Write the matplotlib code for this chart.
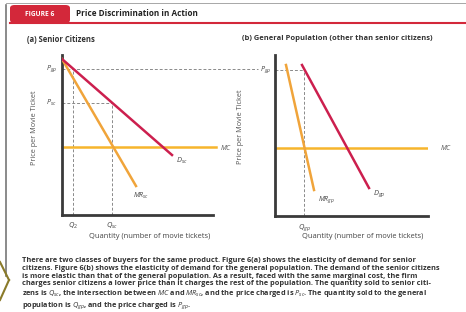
import matplotlib
matplotlib.use("Agg")
import matplotlib.pyplot as plt
from matplotlib.patches import FancyBboxPatch
from matplotlib.lines import Line2D

plt.rcParams['font.family'] = ['Open Sans', 'DejaVu Sans']
plt.rcParams['mathtext.fontset'] = 'custom'
plt.rcParams['mathtext.it'] = 'Open Sans:italic'
plt.rcParams['mathtext.rm'] = 'Open Sans'

# ---- data (price / quantity units) ----
mc_price = 6.8
# panel (a) senior citizens
sc_demand_q = [0.0, 11.0]
sc_demand_p = [15.6, 6.0]
sc_mr_q = [0.0, 7.4]
sc_mr_p = [15.6, 2.9]
sc_q2 = 1.1
sc_q = 5.0
sc_p = 11.2
gp_p = 14.6
# panel (b) general population
gp_demand_q = [2.7, 9.4]
gp_demand_p = [15.1, 2.8]
gp_mr_q = [1.1, 3.9]
gp_mr_p = [15.1, 2.6]
gp_q = 2.9

W, H = 466, 312
fig = plt.figure(figsize=(W/100, H/100), dpi=100)

def fx(x): return x / W
def fy(y): return 1 - y / H

D_COL = '#cc1f4e'
O_COL = '#f0a43a'
MC_COL = '#f7b52c'
DASH = '#8a8a8a'
AX = '#3a3a3a'

# ---- frame / header ----
fig.add_artist(Line2D([fx(6), fx(6)], [fy(5), fy(276)], color='#777', lw=1.2))
fig.add_artist(Line2D([fx(6), fx(466)], [fy(3), fy(3)], color='#999', lw=0.6))
fig.add_artist(FancyBboxPatch((fx(10), fy(23)), fx(60), 18/H,
                              boxstyle='round,pad=0,rounding_size=0.01',
                              fc='#d3283a', ec='none', transform=fig.transFigure))
fig.add_artist(Line2D([fx(10), fx(466)], [fy(23), fy(23)], color='#d3283a', lw=1.5))
fig.text(fx(40), fy(14), 'FIGURE 6', color='white', fontsize=4.8, fontweight='bold',
         ha='center', va='center')
fig.text(fx(76), fy(13.5), 'Price Discrimination in Action', color='#222', fontsize=5.9,
         fontweight='bold', ha='left', va='center')
fig.text(fx(27), fy(39), '(a) Senior Citizens', color='#333', fontsize=5.5,
         fontweight='bold', ha='left', va='center')
fig.text(fx(242), fy(39), '(b) General Population (other than senior citizens)',
         color='#333', fontsize=5.4, fontweight='bold', ha='left', va='center')
# olive artifact at bottom-left
fig.add_artist(Line2D([fx(0), fx(9)], [fy(262), fy(280)], color='#8a7a2a', lw=1.5))
fig.add_artist(Line2D([fx(9), fx(0)], [fy(280), fy(300)], color='#8a7a2a', lw=1.5))

def setup(ax, xmax, ymax):
    ax.set_xlim(0, xmax)
    ax.set_ylim(0, ymax)
    for s in ['top', 'right']:
        ax.spines[s].set_visible(False)
    for s in ['left', 'bottom']:
        ax.spines[s].set_color(AX)
        ax.spines[s].set_linewidth(2)
    ax.set_xticks([])
    ax.set_yticks([])
    ax.patch.set_alpha(0)

# axis labels placed as in the reference
fig.text(fx(35), fy(128), 'Price per Movie Ticket', fontsize=5.2, color='#555',
         rotation=90, ha='center', va='center')
fig.text(fx(240), fy(127), 'Price per Movie Ticket', fontsize=5.2, color='#555',
         rotation=90, ha='center', va='center')
fig.text(fx(150), fy(237), 'Quantity (number of movie tickets)', fontsize=5.4,
         color='#444', ha='center', va='center')
fig.text(fx(363), fy(237), 'Quantity (number of movie tickets)', fontsize=5.4,
         color='#444', ha='center', va='center')

# ---- panel (a) ----
axa = fig.add_axes([fx(62), fy(215), 151/W, 160/H])
setup(axa, 15.1, 16.0)
axa.axhline(mc_price, xmin=0, xmax=1.02, color=MC_COL, lw=1.8, clip_on=False, zorder=2)
axa.plot(sc_mr_q, sc_mr_p, color=O_COL, lw=1.8, zorder=3)
axa.plot(sc_demand_q, sc_demand_p, color=D_COL, lw=1.8, zorder=4)
axa.plot([0, sc_q], [sc_p, sc_p], ls=(0, (3, 2)), color=DASH, lw=0.7, zorder=1)
axa.plot([sc_q, sc_q], [0, sc_p], ls=(0, (3, 2)), color=DASH, lw=0.7, zorder=1)
axa.plot([sc_q2, sc_q2], [0, gp_p], ls=(0, (3, 2)), color=DASH, lw=0.7, zorder=1)
axa.plot([0, 19.6], [gp_p, gp_p], ls=(0, (3, 2)), color=DASH, lw=0.7, zorder=1,
         clip_on=False)
axa.text(-0.5, gp_p, '$P_{gp}$', fontsize=5.2, color='#444', ha='right', va='center')
axa.text(-0.5, sc_p, '$P_{sc}$', fontsize=5.2, color='#444', ha='right', va='center')
axa.text(sc_q2, -0.6, '$Q_{2}$', fontsize=5.4, color='#444', ha='center', va='top')
axa.text(sc_q, -0.6, '$Q_{sc}$', fontsize=5.4, color='#444', ha='center', va='top')
axa.text(15.8, mc_price, '$MC$', fontsize=5.0, color='#555', ha='left', va='center')
axa.text(sc_demand_q[1] + 0.4, sc_demand_p[1] - 0.6, '$D_{sc}$', fontsize=5.4,
         color='#444', ha='left', va='center')
axa.text(sc_mr_q[1] - 0.3, sc_mr_p[1] - 1.0, '$MR_{sc}$', fontsize=5.0,
         color='#444', ha='left', va='center')

# ---- panel (b) ----
axb = fig.add_axes([fx(275), fy(216), 153/W, 161/H])
setup(axb, 15.3, 16.1)
axb.axhline(mc_price, xmin=0, xmax=1.0, color=MC_COL, lw=1.8, zorder=2)
axb.plot(gp_mr_q, gp_mr_p, color=O_COL, lw=1.8, zorder=3)
axb.plot(gp_demand_q, gp_demand_p, color=D_COL, lw=1.8, zorder=4)
axb.plot([gp_q, gp_q], [0, gp_p], ls=(0, (3, 2)), color=DASH, lw=0.7, zorder=1)
axb.plot([0, gp_q], [gp_p, gp_p], ls=(0, (3, 2)), color=DASH, lw=0.7, zorder=1)
axb.text(-0.4, gp_p, '$P_{gp}$', fontsize=5.2, color='#444', ha='right', va='center')
axb.text(gp_q, -0.6, '$Q_{gp}$', fontsize=5.4, color='#444', ha='center', va='top')
axb.text(16.5, mc_price, '$MC$', fontsize=5.0, color='#555', ha='left', va='center')
axb.text(gp_demand_q[1] + 0.4, gp_demand_p[1] - 0.6, '$D_{gp}$', fontsize=5.4,
         color='#444', ha='left', va='center')
axb.text(gp_mr_q[1] + 0.4, gp_mr_p[1] - 1.0, '$MR_{gp}$', fontsize=5.0,
         color='#444', ha='left', va='center')

# ---- caption ----
caption = [
    "There are two classes of buyers for the same product. Figure 6(a) shows the elasticity of demand for senior",
    "citizens. Figure 6(b) shows the elasticity of demand for the general population. The demand of the senior citizens",
    "is more elastic than that of the general population. As a result, faced with the same marginal cost, the firm",
    "charges senior citizens a lower price than it charges the rest of the population. The quantity sold to senior citi-",
    "zens is $Q_{sc}$, the intersection between $MC$ and $MR_{sc}$, and the price charged is $P_{sc}$. The quantity sold to the general",
    "population is $Q_{gp}$, and the price charged is $P_{gp}$.",
]
fig.text(fx(22), fy(257.5), '\n'.join(caption), fontsize=5.35, color='#333',
         fontweight='bold', ha='left', va='top', linespacing=1.12)

fig.savefig('out.png', dpi=100)
